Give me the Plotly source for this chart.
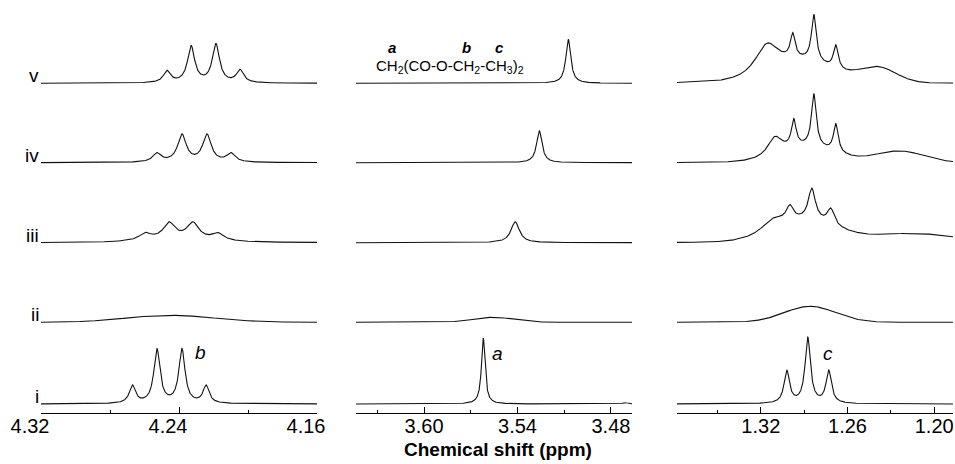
import numpy as np
import plotly.graph_objects as go

# ---------------- data ----------------
sample_labels = ["i", "ii", "iii", "iv", "v"]

# x-axis windows (ppm, high -> low) and ticks
b_range = [4.32, 4.16]
a_range = [3.6437, 3.4665]
c_range = [1.378, 1.187]
b_ticks = [4.32, 4.24, 4.16]
a_ticks = [3.60, 3.54, 3.48]
c_ticks = [1.32, 1.26, 1.20]

# line components per sample (i..v): (centre ppm, amplitude, fwhm ppm, lorentzian fraction)
b_peaks = [
    [(4.2670, 17.5, 0.0043, 1), (4.2528, 54.0, 0.0043, 1), (4.2383, 54.0, 0.0043, 1), (4.2243, 17.5, 0.0043, 1)],
    [(4.2450, 7.0, 0.060, 0)],
    [(4.2597, 6.6, 0.008, 1), (4.2458, 15.5, 0.008, 1), (4.2319, 15.5, 0.008, 1), (4.2174, 6.6, 0.008, 1),
     (4.2388, 4.0, 0.045, 0.5)],
    [(4.2528, 8.6, 0.006, 1), (4.2383, 27.3, 0.006, 1), (4.2238, 27.3, 0.006, 1), (4.2099, 8.6, 0.006, 1)],
    [(4.2470, 11.6, 0.005, 1), (4.2330, 36.4, 0.005, 1), (4.2186, 38.4, 0.005, 1), (4.2046, 12.6, 0.005, 1)],
]
a_peaks = [
    [(3.5620, 66.0, 0.0028, 1), (3.4710, 1.5, 0.004, 1)],
    [(3.5556, 5.0, 0.030, 0)],
    [(3.5415, 21.0, 0.0065, 1)],
    [(3.5260, 32.0, 0.0042, 1)],
    [(3.5074, 44.0, 0.0038, 1)],
]
c_peaks = [
    [(1.3020, 32.3, 0.0045, 1), (1.2875, 65.4, 0.0045, 1), (1.2730, 32.3, 0.0045, 1)],
    [(1.2860, 16.0, 0.042, 0)],
    [(1.2880, 20.0, 0.050, 0), (1.3117, 12.4, 0.020, 1), (1.2999, 14.4, 0.006, 1), (1.2847, 31.4, 0.006, 1),
     (1.2716, 16.0, 0.006, 1), (1.2150, 9.0, 0.070, 0)],
    [(1.2870, 15.0, 0.045, 0), (1.3103, 18.3, 0.012, 1), (1.2972, 26.8, 0.004, 1), (1.2833, 52.4, 0.004, 1),
     (1.2681, 28.2, 0.004, 1), (1.2240, 11.5, 0.040, 0)],
    [(1.2900, 20.0, 0.050, 0), (1.3158, 30.0, 0.020, 1), (1.2979, 24.0, 0.004, 1), (1.2833, 46.5, 0.004, 1),
     (1.2681, 23.5, 0.004, 1), (1.2390, 15.0, 0.030, 0)],
]

# ---------------- layout constants (pixels) ----------------
W, H = 955, 464
axis_y_px = 413
stack_offsets = [9.0, 90.7, 170.3, 250.3, 329.7]
panel_px = [(41, 317), (356, 632), (677, 953)]

FONT = "Liberation Sans, Arial, Helvetica, sans-serif"


def lineshape(x, peaks):
    y = np.zeros_like(x)
    for c, a, w, eta in peaks:
        lor = 1.0 / (1.0 + (2.0 * (x - c) / w) ** 2)
        gau = np.exp(-4.0 * np.log(2.0) * ((x - c) / w) ** 2)
        y += a * (eta * lor + (1.0 - eta) * gau)
    return y


fig = go.Figure()
panels = [(b_range, b_peaks, "x", "y"), (a_range, a_peaks, "x2", "y2"), (c_range, c_peaks, "x3", "y3")]
for rng, peaks_all, xa, ya in panels:
    x = np.linspace(rng[0], rng[1], 1500)
    for k, peaks in enumerate(peaks_all):
        fig.add_trace(go.Scatter(
            x=x, y=lineshape(x, peaks) + stack_offsets[k], mode="lines",
            line=dict(color="#111111", width=1.1),
            xaxis=xa, yaxis=ya, showlegend=False, hoverinfo="skip"))

ydom = [(H - axis_y_px) / H, 1.0]
common_x = dict(
    showline=True, linecolor="black", linewidth=1, ticks="inside", ticklen=6, tickwidth=1,
    tickcolor="black", showgrid=False, zeroline=False, tickformat=".2f", automargin=False,
    ticklabelstandoff=-5,
    tickfont=dict(family=FONT, size=20, color="black"),
)
common_y = dict(visible=False, range=[0, axis_y_px], domain=ydom, fixedrange=True, automargin=False)

layout_axes = {}
for i, (rng, ticks, (p0, p1)) in enumerate(zip([b_range, a_range, c_range], [b_ticks, a_ticks, c_ticks], panel_px)):
    n = "" if i == 0 else str(i + 1)
    minor_dtick = 0.04 if i == 0 else 0.03
    xa = dict(common_x, range=rng, domain=[p0 / W, p1 / W], anchor="y" + n,
              tickvals=ticks,
              minor=dict(dtick=minor_dtick, tick0=ticks[0], ticks="inside", ticklen=3, tickcolor="black",
                         tickwidth=1, showgrid=False))
    if i == 0:
        xa["ticklabelshift"] = 11
    layout_axes["xaxis" + n] = xa
    layout_axes["yaxis" + n] = dict(common_y, anchor="x" + n)

fig.update_layout(
    width=W, height=H, autosize=False,
    margin=dict(l=0, r=0, t=0, b=0, pad=0, autoexpand=False),
    paper_bgcolor="white", plot_bgcolor="white",
    **layout_axes,
)

ann = []
# sample labels at left of first panel
for k, lab in enumerate(sample_labels):
    ann.append(dict(text=lab, xref="paper", yref="y", x=41 / W, y=stack_offsets[k],
                    xanchor="right", yanchor="bottom", yshift=-5, showarrow=False,
                    font=dict(family=FONT, size=19, color="black")))
# peak letters
for txt, xp, yp in [("b", 200, 352), ("a", 498, 353), ("c", 828, 353)]:
    ann.append(dict(text="<i>%s</i>" % txt, xref="paper", yref="paper", x=xp / W, y=1 - yp / H,
                    xanchor="center", yanchor="middle", showarrow=False,
                    font=dict(family=FONT, size=19, color="black")))
# formula
ann.append(dict(text="CH<sub>2</sub>(CO-O-CH<sub>2</sub>-CH<sub>3</sub>)<sub>2</sub>", xref="paper", yref="paper",
                x=374 / W, y=1 - 66 / H, xanchor="left", yanchor="middle", showarrow=False,
                font=dict(family=FONT, size=15, color="black")))
for txt, xp in [("a", 392), ("b", 466), ("c", 499)]:
    ann.append(dict(text="<b><i>%s</i></b>" % txt, xref="paper", yref="paper", x=xp / W, y=1 - 48 / H,
                    xanchor="center", yanchor="middle", showarrow=False,
                    font=dict(family=FONT, size=15, color="black")))
# axis title
ann.append(dict(text="<b>Chemical shift (ppm)</b>", xref="paper", yref="paper", x=498 / W, y=1 - 449 / H,
                xanchor="center", yanchor="middle", showarrow=False,
                font=dict(family=FONT, size=19, color="black")))
fig.update_layout(annotations=ann)

fig.write_html("out.html")
